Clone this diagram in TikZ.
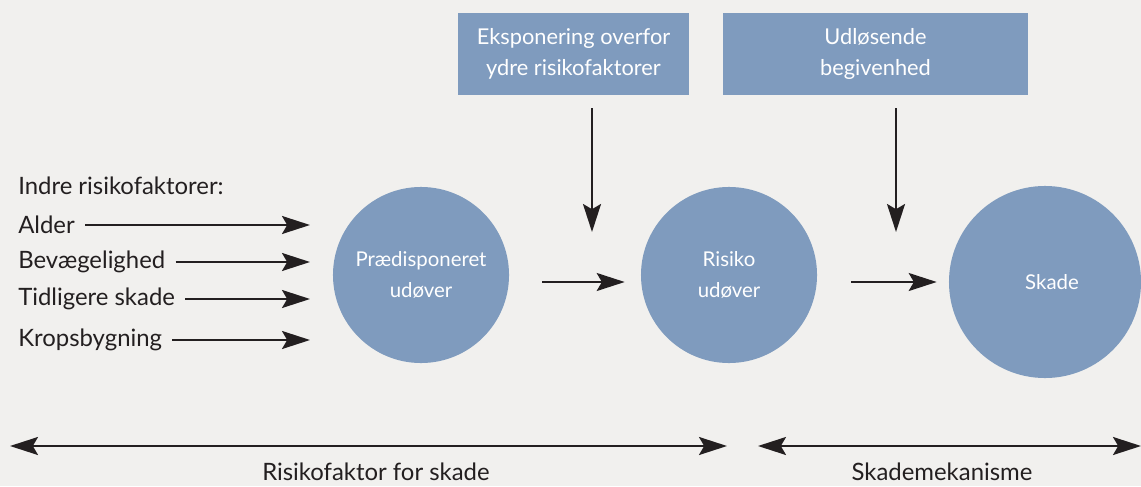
\documentclass[tikz,border=0pt]{standalone}
\usepackage{fontspec}
\setmainfont{Lato}
\usetikzlibrary{arrows.meta}

\definecolor{baggrund}{RGB}{241,240,238}
\definecolor{blaa}{RGB}{127,155,190}
\definecolor{pilfarve}{RGB}{35,31,32}

\tikzset{
  spids/.tip={Stealth[length=7mm, width=4.5mm, inset=1.3mm]},
  pil/.style={draw=pilfarve, line width=1.5pt, -spids},
  dobbeltpil/.style={pil, spids-spids},
  cirkel/.style={circle, fill=blaa, inner sep=0pt, align=center, text=white, font=\fontsize{14.5}{22.5}\selectfont},
  kasse/.style={rectangle, fill=blaa, inner sep=0pt, align=center, text=white, font=\fontsize{15.5}{22}\selectfont},
  etiket/.style={anchor=west, inner sep=0pt, text=pilfarve, font=\fontsize{17}{20}\selectfont}
}

\begin{document}
\begin{tikzpicture}[x=0.025cm, y=-0.025cm]
    \fill[baggrund] (0,0) rectangle (1141,486);
    \useasboundingbox (0,0) rectangle (1141,486);

    % cirkler og kasser
    \node[cirkel, minimum size=4.4cm] (predisp) at (421,275) {Prædisponeret\\udøver};
    \node[cirkel, minimum size=4.4cm] (risiko) at (729,275) {Risiko\\udøver};
    \node[cirkel, minimum size=4.8cm] (skade) at (1045,282) {\hspace*{0.35cm}Skade};
    \node[kasse, minimum width=5.775cm, minimum height=2.05cm] (ekspon) at (573.5,54) {Eksponering overfor\\ydre risikofaktorer};
    \node[kasse, minimum width=7.625cm, minimum height=2.05cm] (udloes) at (875.5,54) {Udløsende\\begivenhed};

    % indre risikofaktorer
    \node[etiket] (indre) at (18,186) {Indre risikofaktorer:};
    \node[etiket] (alder) at (18,225) {Alder};
    \node[etiket] (bevaeg) at (18,262) {Bevægelighed};
    \node[etiket] (tidl) at (18,299) {Tidligere skade};
    \node[etiket] (krops) at (18,340) {Kropsbygning};
    \coordinate (venstrekant) at (310,0);

    \draw[pil, shorten <=0.25cm] (alder.east) -- (alder.east -| venstrekant);
    \draw[pil, shorten <=0.25cm] (bevaeg.east) -- (bevaeg.east -| venstrekant);
    \draw[pil, shorten <=0.25cm] (tidl.east) -- (tidl.east -| venstrekant);
    \draw[pil, shorten <=0.25cm] (krops.east) -- (krops.east -| venstrekant);

    % forloeb
    \draw[pil, shorten <=0.825cm, shorten >=0.4cm] (predisp.east |- 0,282) -- (risiko.west |- 0,282);
    \draw[pil, shorten <=0.85cm, shorten >=0.3cm] (risiko.east |- 0,282) -- (skade.west |- 0,282);

    \coordinate (ekspil) at (592,232);
    \coordinate (udpil) at (896,232);
    \draw[pil, shorten <=0.33cm] (ekspil |- ekspon.south) -- (ekspil);
    \draw[pil, shorten <=0.33cm] (udpil |- udloes.south) -- (udpil);

    % faser
    \coordinate (fase1v) at (10,446);
    \coordinate (fase1h) at (727,446);
    \coordinate (fase2v) at (758,446);
    \coordinate (fase2h) at (1141,446);
    \draw[dobbeltpil] (fase1v) -- (fase1h);
    \draw[dobbeltpil] (fase2v) -- (fase2h);
    \node[etiket, anchor=center] (risikofaktor) at (376,472) {Risikofaktor for skade};
    \node[etiket, anchor=center] (mekanisme) at (942,472) {Skademekanisme};
\end{tikzpicture}
\end{document}
